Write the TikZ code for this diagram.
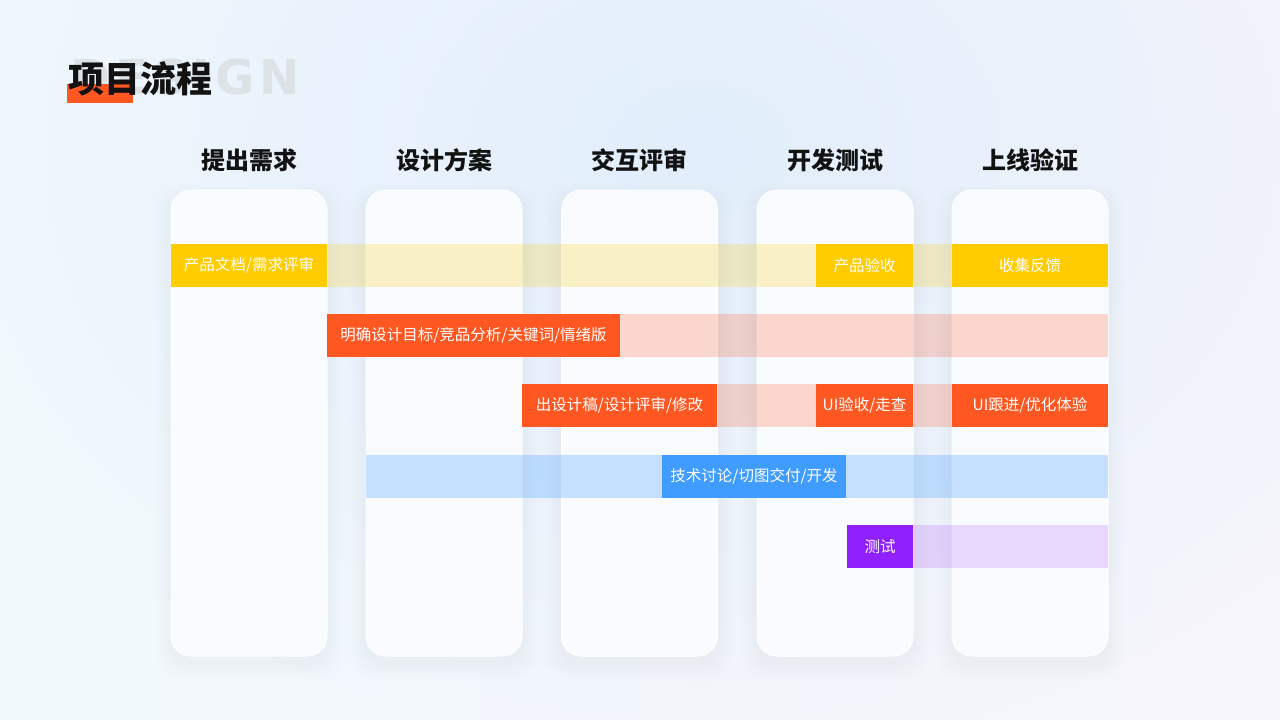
\documentclass[tikz,border=0pt]{standalone}
\usepackage{fontspec}
\setmainfont{Liberation Sans}
\newfontfamily\cjk{Noto Sans CJK SC}
\newfontfamily\ghostfont[LetterSpace=10]{DejaVu Sans}
\IfFontExistsTF{Noto Sans CJK SC Black}
  {\newfontfamily\cjkheavy{Noto Sans CJK SC Black}}
  {\newfontfamily\cjkheavy[FakeBold=3.5]{Noto Sans CJK SC Bold}}
\usetikzlibrary{positioning,fadings}
\tikzfading[name=blobfade, inner color=transparent!0, outer color=transparent!100]
\definecolor{inkcol}{RGB}{18,18,18}
\definecolor{ghostcol}{RGB}{220,226,230}
\definecolor{cardcol}{RGB}{249,251,254}
\definecolor{shadowcol}{RGB}{130,135,170}
\definecolor{bgleft}{RGB}{241,249,252}
\definecolor{bgright}{RGB}{246,245,251}
\definecolor{bgblob}{RGB}{226,238,252}
\definecolor{yelcol}{RGB}{255,204,0}
\definecolor{orgcol}{RGB}{255,87,34}
\definecolor{bluecol}{RGB}{64,157,255}
\definecolor{purcol}{RGB}{144,33,254}
\tikzset{
  % column card
  card/.style={rectangle, rounded corners=20pt, fill=cardcol, draw=white, line width=1pt,
               minimum width=156pt, minimum height=466pt, inner sep=0pt},
  % column heading
  head/.style={font=\cjkheavy\fontsize{24}{27}\selectfont, text=inkcol},
  % pale band of a row
  band/.style={rectangle, fill=#1, fill opacity=.22, minimum height=43pt, inner sep=0pt},
  % solid tag
  tag/.style={rectangle, fill=#1, text=white, minimum height=43pt, inner sep=0pt,
              font=\cjk\fontsize{15.5}{18}\selectfont},
}
\begin{document}
\begin{tikzpicture}[x=1pt, y=-1pt]
  \useasboundingbox (0,0) rectangle (1280,720);
  \shade[left color=bgleft, right color=bgright] (0,0) rectangle (1280,720);
  \fill[bgblob, path fading=blobfade] (-100,-450) rectangle (1500,750);

  % title
  \node[anchor=base east, text=ghostcol, font=\ghostfont\fontsize{48}{52}\selectfont\bfseries] (ghost) at (303,94) {DESIGN};
  \fill[orgcol] (67,84) rectangle (133,103);
  \node[font=\cjkheavy\fontsize{36}{40}\selectfont, text=inkcol] (title) at (140,79) {项目流程};

  % soft shadows under the cards
  \foreach \x in {249,444,639.5,835,1030}
    \foreach \s in {2,4,...,16}
      \fill[shadowcol, opacity=.009, rounded corners=24pt] (\x-78-\s,190-\s+10) rectangle (\x+78+\s,656+\s+8);

  % columns
  \node[card] (c1) at (249,423) {};
  \node[card] (c2) at (444,423) {};
  \node[card] (c3) at (639.5,423) {};
  \node[card] (c4) at (835,423) {};
  \node[card] (c5) at (1030,423) {};
  \node[head] (h1) at (249,160) {提出需求};
  \node[head] (h2) at (444,160) {设计方案};
  \node[head] (h3) at (639.5,160) {交互评审};
  \node[head] (h4) at (835,160) {开发测试};
  \node[head] (h5) at (1030,160) {上线验证};

  % bands
  \node[band=yelcol, minimum width=937pt] (b1) at (639.5,265.5) {};
  \node[band=orgcol, minimum width=781pt] (b2) at (717.5,335.5) {};
  \node[band=orgcol, minimum width=586pt] (b3) at (815,405.5) {};
  \node[band=bluecol, fill opacity=.28, minimum width=742pt] (b4) at (737,476.5) {};
  \node[band=purcol, fill opacity=.16, minimum width=261pt] (b5) at (977.5,546.5) {};

  % tags
  \node[tag=yelcol, minimum width=156pt] (t11) at (249,265.5) {产品文档/需求评审};
  \node[tag=yelcol, minimum width=97pt] (t12) at (864.5,265.5) {产品验收};
  \node[tag=yelcol, minimum width=156pt] (t13) at (1030,265.5) {收集反馈};
  \node[tag=orgcol, minimum width=293pt] (t21) at (473.5,335.5) {明确设计目标/竞品分析/关键词/情绪版};
  \node[tag=orgcol, minimum width=195pt] (t31) at (619.5,405.5) {出设计稿/设计评审/修改};
  \node[tag=orgcol, minimum width=97pt] (t32) at (864.5,405.5) {UI验收/走查};
  \node[tag=orgcol, minimum width=156pt] (t33) at (1030,405.5) {UI跟进/优化体验};
  \node[tag=bluecol, minimum width=184pt] (t41) at (754,476.5) {技术讨论/切图交付/开发};
  \node[tag=purcol, minimum width=66pt] (t51) at (880,546.5) {测试};
\end{tikzpicture}
\end{document}
